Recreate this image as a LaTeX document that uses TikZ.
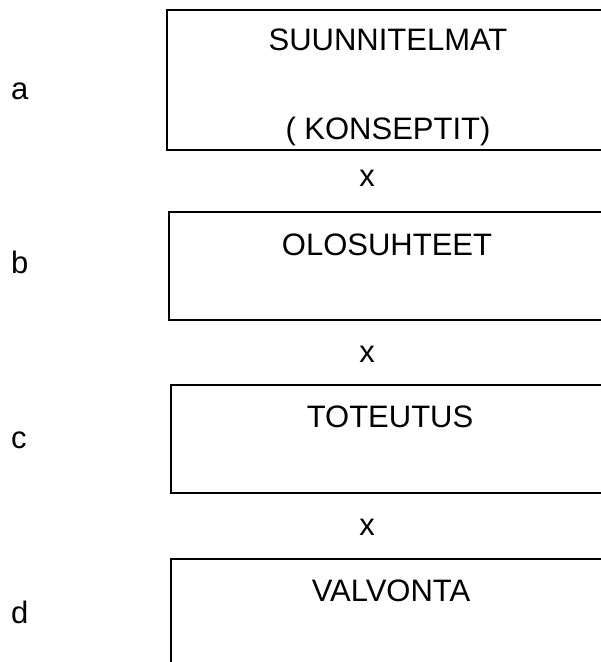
\documentclass[tikz,border=0pt]{standalone}
\usepackage{fontspec}
\setmainfont{Liberation Sans}
\begin{document}
\begin{tikzpicture}[x=1pt,y=-1pt,
  every node/.style={inner sep=0pt,outer sep=0pt,font=\fontsize{31}{37}\selectfont},
  boxframe/.style={draw=black,line width=2pt,rectangle,anchor=north west},
  lbl/.style={anchor=base},
  side/.style={anchor=base west}]
\useasboundingbox (0,0) rectangle (601,662);
\clip (0,0) rectangle (601,662);
% boxes (extend past the right/bottom edge as in the reference)
\node[boxframe,minimum width=480pt,minimum height=140pt] (b1) at (167,10) {};
\node[boxframe,minimum width=480pt,minimum height=108pt] (b2) at (169,212) {};
\node[boxframe,minimum width=480pt,minimum height=108pt] (b3) at (171,385) {};
\node[boxframe,minimum width=480pt,minimum height=140pt] (b4) at (171,559) {};
% box texts
\node[lbl] (t1) at (388,50) {SUUNNITELMAT};
\node[lbl] (t1b) at (388,139) {( KONSEPTIT)};
\node[lbl] (t2) at (387,255) {OLOSUHTEET};
\node[lbl] (t3) at (390,427) {TOTEUTUS};
\node[lbl] (t4) at (391,601) {VALVONTA};
% x marks between boxes
\node[lbl] (x1) at (367,186) {x};
\node[lbl] (x2) at (367,362) {x};
\node[lbl] (x3) at (367,535) {x};
% side letters
\node[side] (la) at (11,99) {a};
\node[side] (lb) at (11,273) {b};
\node[side] (lc) at (11,448) {c};
\node[side] (ld) at (11,623) {d};
\end{tikzpicture}
\end{document}
